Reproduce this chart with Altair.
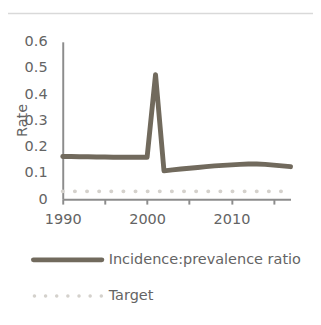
import altair as alt
import pandas as pd

years = list(range(1990, 2018))
ratio = [0.163, 0.163, 0.162, 0.162, 0.161, 0.161, 0.160, 0.160, 0.160, 0.160, 0.160,
         0.475, 0.108, 0.112, 0.115, 0.118, 0.121, 0.124, 0.127, 0.129, 0.131,
         0.133, 0.134, 0.134, 0.133, 0.130, 0.127, 0.124]
target_years = [1990, 2017]
target_values = [0.03, 0.03]
series_names = ["Incidence:prevalence ratio", "Target"]
x_ticks = [1990, 1995, 2000, 2005, 2010, 2015]
y_ticks = [0, 0.1, 0.2, 0.3, 0.4, 0.5, 0.6]

LINE = "#716a5d"
DOT = "#d4d1cc"
TEXT = "#646464"
AXIS = "#8c8c8c"
BORDER = "#d9d9d9"
FONT = "DejaVu Sans"
FS = 14.8

df = pd.DataFrame({"year": years, "value": ratio})
tdf = pd.DataFrame({"year": target_years, "value": target_values})
one = pd.DataFrame({"k": [0]})

x = alt.X("year:Q", scale=alt.Scale(domain=[1990, 2017], nice=False, zero=False),
          axis=alt.Axis(values=x_ticks, title=None, grid=False,
                        labelExpr="datum.value % 10 == 0 ? datum.value : ''",
                        labelFont=FONT, labelFontSize=FS, labelColor=TEXT,
                        labelPadding=8, tickSize=5, tickColor=AXIS, tickWidth=2,
                        domainColor=AXIS, domainWidth=2, labelFlush=False))
y = alt.Y("value:Q", scale=alt.Scale(domain=[0, 0.6], nice=False),
          axis=alt.Axis(values=y_ticks, title="Rate", grid=False, ticks=False,
                        format="~g",
                        labelFont=FONT, labelFontSize=FS, labelColor=TEXT,
                        labelPadding=16, domainColor=AXIS, domainWidth=2,
                        titleFont=FONT, titleFontSize=FS, titleColor=TEXT,
                        titleFontWeight="normal", titleAngle=270,
                        titleBaseline="alphabetic", titleX=-37, titleY=80))

target = alt.Chart(tdf).mark_line(color=DOT, strokeWidth=4, strokeCap="round",
                                  strokeDash=[0.1, 12.3]).encode(x=x, y=y)
line = alt.Chart(df).mark_line(color=LINE, strokeWidth=5, strokeJoin="round",
                               strokeCap="round").encode(x=x, y=y)

border_top = alt.Chart(one).mark_rule(color=BORDER, strokeWidth=1.5).encode(
    x=alt.value(-58), x2=alt.value(270), y=alt.value(-29))
border_left = alt.Chart(one).mark_rule(color=BORDER, strokeWidth=1.5).encode(
    x=alt.value(-58), y=alt.value(-29), y2=alt.value(300))

leg1_sym = alt.Chart(one).mark_rule(color=LINE, strokeWidth=5, strokeCap="round").encode(
    x=alt.value(-30), x2=alt.value(40), y=alt.value(223))
leg1_txt = alt.Chart(one).mark_text(align="left", baseline="middle", font=FONT,
                                    fontSize=FS, color=TEXT).encode(
    x=alt.value(47), y=alt.value(223), text=alt.value(series_names[0]))
leg2_sym = alt.Chart(one).mark_rule(color=DOT, strokeWidth=3.5, strokeCap="round",
                                    strokeDash=[0.1, 11.3]).encode(
    x=alt.value(-29), x2=alt.value(40), y=alt.value(260))
leg2_txt = alt.Chart(one).mark_text(align="left", baseline="middle", font=FONT,
                                    fontSize=FS, color=TEXT).encode(
    x=alt.value(47), y=alt.value(260), text=alt.value(series_names[1]))

chart = alt.layer(border_top, border_left, target, line, leg1_sym, leg1_txt,
                  leg2_sym, leg2_txt).properties(
    width=233, height=161,
    background="white",
    autosize=alt.AutoSizeParams(type="none"),
    padding={"left": 56, "top": 31, "right": 23, "bottom": 122},
).configure_view(strokeWidth=0, stroke="transparent")

chart.save("out.html", embed_options={"renderer": "svg", "actions": False})
